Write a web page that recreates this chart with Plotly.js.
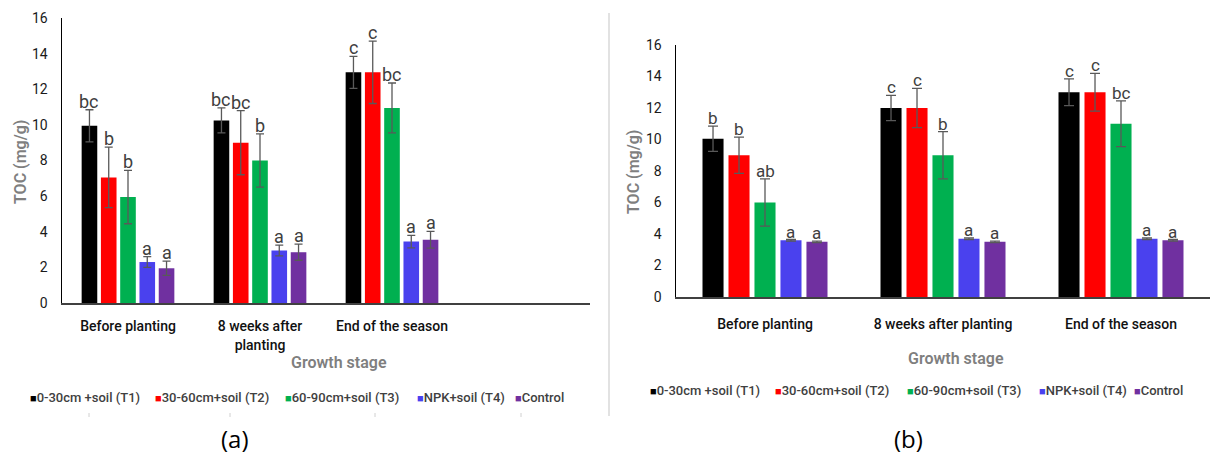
<!DOCTYPE html>
<html>
<head>
<meta charset="utf-8">
<script src="https://cdn.plot.ly/plotly-3.0.1.min.js"></script>
<style>
  html, body { margin: 0; padding: 0; background: #ffffff; }
  #chart { width: 1211px; height: 456px; }
</style>
</head>
<body>
<div id="chart"></div>
<script>
// Growth stages (x categories)
const stages = ["Before planting", "8 weeks after planting", "End of the season"];
const stageLabelsA = ["Before planting", "8 weeks after<br>planting", "End of the season"];
const stageLabelsB = ["Before planting", "8 weeks after planting", "End of the season"];

// Treatments
const treatments = ["0-30cm +soil (T1)", "30-60cm+soil (T2)", "60-90cm+soil (T3)", "NPK+soil (T4)", "Control"];
const colors = ["#000000", "#FF0000", "#00B050", "#4A41EE", "#7030A0"];

// Panel (a): TOC (mg/g), one row per treatment, columns follow stages
const tocA = [
  [9.95, 10.25, 12.95],
  [7.05, 9.0, 12.95],
  [5.95, 8.0, 10.95],
  [2.3, 2.95, 3.45],
  [1.95, 2.85, 3.55]
];
const errA = [
  [0.9, 0.7, 0.9],
  [1.7, 1.8, 1.75],
  [1.5, 1.5, 1.4],
  [0.3, 0.3, 0.35],
  [0.4, 0.45, 0.47]
];
const lettersA = [
  ["bc", "bc", "c"],
  ["b", "bc", "c"],
  ["b", "b", "bc"],
  ["a", "a", "a"],
  ["a", "a", "a"]
];

// Panel (b): TOC (mg/g)
const tocB = [
  [10.05, 12.0, 13.0],
  [9.0, 12.0, 13.0],
  [6.0, 9.0, 11.0],
  [3.6, 3.7, 3.7],
  [3.5, 3.5, 3.6]
];
const errB = [
  [0.8, 0.8, 0.85],
  [1.15, 1.25, 1.2],
  [1.5, 1.5, 1.45],
  [0.05, 0.05, 0.05],
  [0.05, 0.05, 0.05]
];
const lettersB = [
  ["b", "c", "c"],
  ["b", "c", "c"],
  ["ab", "b", "bc"],
  ["a", "a", "a"],
  ["a", "a", "a"]
];

const yTicks = [0, 2, 4, 6, 8, 10, 12, 14, 16];

const W = 1211, H = 456;
const FONT = "Roboto, Liberation Sans, sans-serif";
const BARGAP = 0.27, GROUPGAP = 0.19;

// plot-area boxes in pixels: [left, right, top, bottom]
const boxA = [62, 590, 18, 303];
const boxB = [676, 1210, 45, 297];
const nSlotsA = 4, nSlotsB = 3;

function dom(box) {
  return {
    x: [box[0] / W, box[1] / W],
    y: [1 - box[3] / H, 1 - box[2] / H]
  };
}
const dA = dom(boxA), dB = dom(boxB);

const traces = [];
function addBars(vals, errs, xa, ya, capw) {
  treatments.forEach((name, i) => {
    traces.push({
      type: "bar",
      name: name,
      x: stages,
      y: vals[i],
      xaxis: xa,
      yaxis: ya,
      marker: { color: colors[i] },
      error_y: { type: "data", array: errs[i], visible: true, color: "#595959", thickness: 1.3, width: capw },
      hoverinfo: "y",
      showlegend: false
    });
  });
}
addBars(tocA, errA, "x", "y", 4);
addBars(tocB, errB, "x2", "y2", 5);

const annotations = [];
// significance letters, centred over each bar, resting on top of its error bar
function addLetters(vals, errs, letters, box, nSlots, xref, yref, size) {
  const catPx = (box[1] - box[0]) / nSlots;
  const slot = catPx * (1 - BARGAP) / treatments.length;
  treatments.forEach((_, i) => {
    stages.forEach((_, j) => {
      annotations.push({
        x: j, y: vals[i][j] + errs[i][j], xref: xref, yref: yref,
        xshift: (i - (treatments.length - 1) / 2) * slot,
        yshift: -4,
        text: letters[i][j], showarrow: false,
        xanchor: "center", yanchor: "bottom",
        font: { family: FONT, size: size, color: "#404040" }
      });
    });
  });
}
addLetters(tocA, errA, lettersA, boxA, nSlotsA, "x", "y", 18);
addLetters(tocB, errB, lettersB, boxB, nSlotsB, "x2", "y2", 17);

// axis titles
function paperX(px) { return px / W; }
function paperY(py) { return 1 - py / H; }
const titleFont = { family: FONT, size: 16, color: "#7F7F7F", weight: 600 };
[[20, 162], [633, 172]].forEach(p => {
  annotations.push({
    x: paperX(p[0]), y: paperY(p[1]), xref: "paper", yref: "paper",
    text: "TOC (mg/g)", textangle: -90, showarrow: false,
    xanchor: "center", yanchor: "middle", font: titleFont
  });
});
[[339, 362], [956, 358]].forEach(p => {
  annotations.push({
    x: paperX(p[0]), y: paperY(p[1]), xref: "paper", yref: "paper",
    text: "Growth stage", showarrow: false,
    xanchor: "center", yanchor: "middle", font: titleFont
  });
});

// legends drawn as coloured squares followed by the treatment name
const legendA = { y: 397, xs: [28, 153, 283, 415, 513] };
const legendB = { y: 390, xs: [648, 773, 905, 1037, 1132] };
[legendA, legendB].forEach(lg => {
  treatments.forEach((name, i) => {
    annotations.push({
      x: paperX(lg.xs[i]), y: paperY(lg.y), xref: "paper", yref: "paper",
      text: "<span style='color:" + colors[i] + ";font-size:11px'>■</span>" + name,
      showarrow: false, xanchor: "left", yanchor: "middle",
      font: { family: FONT, size: 13, color: "#404040", weight: 500 }
    });
  });
});

// panel letters
[["(a)", 235, 438], ["(b)", 908, 438]].forEach(p => {
  annotations.push({
    x: paperX(p[1]), y: paperY(p[2]), xref: "paper", yref: "paper",
    text: p[0], showarrow: false, xanchor: "center", yanchor: "middle",
    font: { family: "Open Sans, Liberation Sans, sans-serif", size: 24, color: "#000000" }
  });
});

const shapes = [
  // divider between the two panels
  { type: "line", xref: "paper", yref: "paper", x0: paperX(609), x1: paperX(609), y0: paperY(13), y1: paperY(416),
    line: { color: "#D9D9D9", width: 1.5 } }
];
// faint tick marks under the left legend
[89, 230, 375, 521].forEach(px => {
  shapes.push({ type: "line", xref: "paper", yref: "paper", x0: paperX(px), x1: paperX(px), y0: paperY(413), y1: paperY(417),
    line: { color: "#D0D0D0", width: 1 } });
});

const tickFont = { family: FONT, size: 14, color: "#1A1A1A" };
const yAxisBase = {
  range: [0, 16], tickmode: "array", tickvals: yTicks, ticktext: yTicks.map(String),
  showline: true, linecolor: "#000000", linewidth: 1.5, showgrid: false, zeroline: false,
  ticks: "", tickfont: tickFont, ticklabelstandoff: 10, fixedrange: true
};
const xAxisBase = {
  type: "category", showline: true, linecolor: "#404040", linewidth: 1.5, showgrid: false, zeroline: false,
  ticks: "", tickfont: { family: FONT, size: 14, color: "#111111", weight: 500 }, tickmode: "array", tickvals: stages, fixedrange: true
};

const layout = {
  width: W, height: H,
  margin: { l: 0, r: 0, t: 0, b: 0 },
  paper_bgcolor: "#FFFFFF", plot_bgcolor: "#FFFFFF",
  barmode: "group", bargap: BARGAP, bargroupgap: GROUPGAP,
  showlegend: false,
  font: { family: FONT },
  xaxis: Object.assign({}, xAxisBase, { domain: dA.x, anchor: "y", range: [-0.5, nSlotsA - 0.5], ticktext: stageLabelsA, ticklabelstandoff: 10, categoryarray: stages, categoryorder: "array" }),
  yaxis: Object.assign({}, yAxisBase, { domain: dA.y, anchor: "x" }),
  xaxis2: Object.assign({}, xAxisBase, { domain: dB.x, anchor: "y2", range: [-0.5, nSlotsB - 0.5], ticktext: stageLabelsB, ticklabelstandoff: 14, categoryarray: stages, categoryorder: "array" }),
  yaxis2: Object.assign({}, yAxisBase, { domain: dB.y, anchor: "x2" }),
  annotations: annotations,
  shapes: shapes
};

Plotly.newPlot("chart", traces, layout, { displayModeBar: false, staticPlot: true });
</script>
</body>
</html>
